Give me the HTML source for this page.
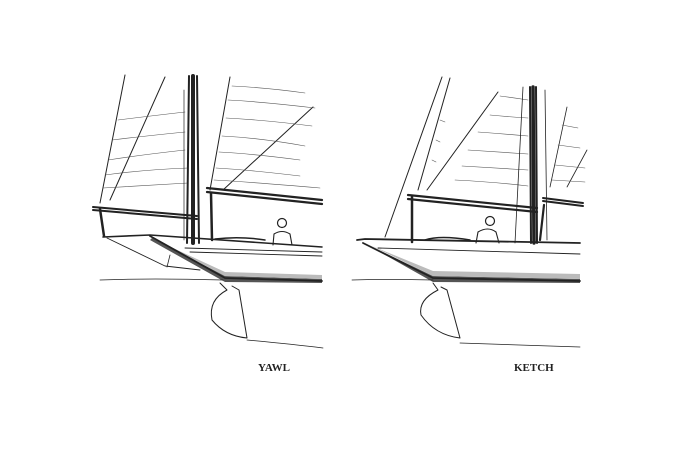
<!DOCTYPE html>
<html><head><style>
html,body{margin:0;padding:0;background:#fff;}
svg{display:block;}
text{font-family:"Liberation Serif",serif;font-weight:bold;font-size:11px;fill:#222;}
</style></head><body>
<svg width="695" height="460" viewBox="0 0 695 460" xmlns="http://www.w3.org/2000/svg">
<!-- shaded hull bottoms -->
<polygon points="152,238 225,276 322,279 322,283 225,282 150,240" fill="#555"/>
<polygon points="160,242 225,272 322,275 322,279 225,276" fill="#bbb"/>
<polygon points="364,243 433,276 580,279 580,283 433,282" fill="#555"/>
<polygon points="372,246 433,271 580,274 580,279 433,276" fill="#bbb"/>
<g fill="none" stroke="#222" stroke-linecap="round" stroke-linejoin="round">
<!-- YAWL -->
<line x1="125" y1="75" x2="100" y2="203" stroke-width="1"/>
<line x1="165" y1="77" x2="110" y2="200" stroke-width="1"/>
<g stroke-width="0.6" stroke="#555">
<path d="M108 160 Q140 155 185 150"/><path d="M105 175 Q140 170 188 168"/><path d="M103 188 Q140 186 188 183"/><path d="M112 140 Q145 136 185 132"/><path d="M118 120 Q150 116 185 112"/>
</g>
<path d="M189 76 L187 243 M197 76 L199 243" stroke-width="2"/>
<line x1="193" y1="76" x2="193" y2="243" stroke-width="4"/>
<line x1="184" y1="90" x2="184" y2="240" stroke-width="0.7"/>
<path d="M93 207 L197 216 M93 210 L197 219" stroke-width="2"/>
<line x1="100" y1="209" x2="104" y2="236" stroke-width="2.5"/>
<line x1="230" y1="77" x2="210" y2="190" stroke-width="1"/>
<line x1="313" y1="107" x2="223" y2="190" stroke-width="1"/>
<g stroke-width="0.6" stroke="#555">
<path d="M232 86 Q270 88 305 93"/><path d="M228 100 Q265 102 315 108"/><path d="M226 118 Q265 120 312 126"/><path d="M222 136 Q260 138 305 146"/><path d="M219 152 Q255 154 300 160"/><path d="M216 168 Q250 170 300 176"/><path d="M214 180 Q250 182 320 188"/>
</g>
<path d="M207 188 L322 200 M207 192 L322 204" stroke-width="2.2"/>
<line x1="211" y1="193" x2="212" y2="240" stroke-width="2.5"/>
<path d="M103 237 L150 235 L322 247" stroke-width="1.6"/>
<path d="M150 236 L225 278 L322 281" stroke-width="1.8"/>
<path d="M185 248 L322 252 M190 252 L322 256" stroke-width="0.9"/>
<path d="M215 239 Q240 236 265 240" stroke-width="1.5"/>
<path d="M107 238 L165 266 L200 270" stroke-width="0.9"/>
<line x1="170" y1="255" x2="167" y2="267" stroke-width="0.8"/>
<path d="M100 280 Q150 278 223 280" stroke-width="0.8"/>
<path d="M220 283 L227 290 Q208 300 212 320 Q225 336 247 338 L239 290 L232 286" stroke-width="1"/>
<path d="M247 340 Q290 344 323 348" stroke-width="0.8"/>
<circle cx="282" cy="223" r="4.5" stroke-width="1.2"/>
<path d="M273 245 L274 234 Q282 229 290 234 L292 245" stroke-width="1.1"/>

<!-- KETCH -->
<line x1="442" y1="77" x2="385" y2="237" stroke-width="1"/>
<line x1="450" y1="78" x2="418" y2="190" stroke-width="1"/>
<line x1="498" y1="92" x2="427" y2="190" stroke-width="1"/>
<g stroke-width="0.6" stroke="#555">
<path d="M500 96 Q515 98 528 100"/><path d="M490 115 Q510 117 528 118"/><path d="M478 132 Q505 134 528 136"/><path d="M468 150 Q500 152 528 154"/><path d="M462 166 Q495 168 528 170"/><path d="M455 180 Q495 182 528 186"/>
<path d="M440 120 L445 122 M436 140 L440 142 M432 160 L436 162"/>
</g>
<line x1="523" y1="87" x2="515" y2="243" stroke-width="0.8"/>
<path d="M530 87 L531 243 M536 87 L537 243" stroke-width="2"/>
<line x1="533" y1="87" x2="534" y2="243" stroke-width="3.5"/>
<path d="M408 195 L537 208 M408 199 L537 212" stroke-width="2.2"/>
<line x1="412" y1="197" x2="412" y2="242" stroke-width="2.5"/>
<line x1="545" y1="90" x2="547" y2="240" stroke-width="0.8"/>
<line x1="567" y1="107" x2="550" y2="187" stroke-width="0.8"/>
<line x1="587" y1="150" x2="567" y2="187" stroke-width="0.8"/>
<g stroke-width="0.6" stroke="#555"><path d="M562 125 L578 128 M558 145 L580 148 M555 165 L585 168 M552 180 L585 182"/></g>
<path d="M543 198 L583 203 M543 201 L583 206" stroke-width="2"/>
<line x1="544" y1="205" x2="540" y2="240" stroke-width="2.2"/>
<path d="M357 240 L365 239 L580 243" stroke-width="1.8"/>
<path d="M363 243 L433 278 L580 281" stroke-width="1.8"/>
<path d="M378 248 L580 254" stroke-width="0.9"/>
<path d="M425 240 Q440 235 470 240" stroke-width="1.5"/>
<path d="M352 280 Q390 279 433 280" stroke-width="0.8"/>
<path d="M433 283 L438 290 Q418 300 421 315 Q435 335 460 338 L447 290 L441 287" stroke-width="1"/>
<path d="M460 343 Q520 345 580 347" stroke-width="0.8"/>
<circle cx="490" cy="221" r="4.5" stroke-width="1.2"/>
<path d="M476 243 L478 232 Q488 226 496 232 L499 243" stroke-width="1.1"/>
</g>
<text x="258" y="371">YAWL</text>
<text x="514" y="371">KETCH</text>
</svg>
</body></html>
